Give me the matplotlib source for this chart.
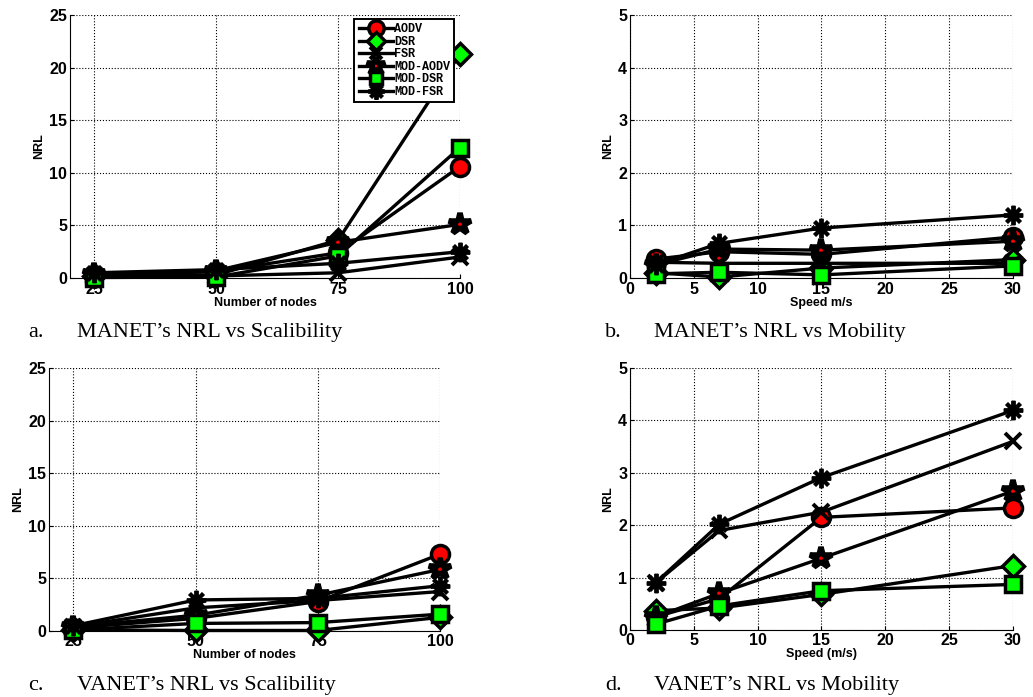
import matplotlib
matplotlib.use('Agg')
import matplotlib.pyplot as plt

# x values
nodes = [25, 50, 75, 100]
speed = [2, 7, 15, 30]
labels = ['AODV', 'DSR', 'FSR', 'MOD-AODV', 'MOD-DSR', 'MOD-FSR']

# a. MANET NRL vs scalability
a_aodv = [0.3, 0.6, 2.4, 10.6]
a_dsr = [0.2, 0.3, 3.6, 21.3]
a_fsr = [0.1, 0.2, 0.5, 2.0]
a_mod_aodv = [0.4, 0.7, 3.4, 5.1]
a_mod_dsr = [0.05, 0.1, 2.1, 12.4]
a_mod_fsr = [0.5, 0.8, 1.4, 2.5]

# b. MANET NRL vs mobility
b_aodv = [0.36, 0.5, 0.45, 0.78]
b_dsr = [0.1, 0.02, 0.19, 0.35]
b_fsr = [0.3, 0.28, 0.28, 0.28]
b_mod_aodv = [0.25, 0.55, 0.53, 0.7]
b_mod_dsr = [0.08, 0.11, 0.06, 0.23]
b_mod_fsr = [0.25, 0.66, 0.95, 1.2]

# c. VANET NRL vs scalability
c_aodv = [0.3, 1.2, 2.8, 7.3]
c_dsr = [0.1, 0.05, 0.05, 1.3]
c_fsr = [0.4, 2.2, 2.9, 3.75]
c_mod_aodv = [0.4, 1.5, 3.4, 5.85]
c_mod_dsr = [0.1, 0.72, 0.8, 1.6]
c_mod_fsr = [0.5, 2.95, 3.1, 4.3]

# d. VANET NRL vs mobility
d_aodv = [0.25, 0.6, 2.15, 2.33]
d_dsr = [0.37, 0.42, 0.68, 1.23]
d_fsr = [0.9, 1.9, 2.25, 3.6]
d_mod_aodv = [0.25, 0.7, 1.37, 2.65]
d_mod_dsr = [0.11, 0.46, 0.75, 0.87]
d_mod_fsr = [0.9, 2.02, 2.91, 4.19]

# marker style per series: marker, size, face colour, edge width
styles = [('o', 13, 'red', 2.5),
          ('D', 11, 'lime', 2.5),
          ('x', 11, 'black', 2.8),
          ('*', 16, 'red', 4.0),
          ('s', 11, 'lime', 2.5),
          ((8, 2, 0), 14, 'black', 2.8)]

tickfont = {'family': 'Liberation Sans', 'weight': 'bold', 'size': 11.5}
labfont = {'family': 'Liberation Sans', 'weight': 'bold', 'size': 9}


def draw(ax, x, series, xlim, ylim, xticks, yticks, xlabel, legend=False):
    for ys, (m, ms, fc, mew) in zip(series, styles):
        ax.plot(x, ys, color='black', lw=2.4, marker=m, ms=ms,
                mfc=fc, mec='black', mew=mew, clip_on=False, zorder=3)
    ax.set_xlim(xlim)
    ax.set_ylim(ylim)
    ax.set_xticks(xticks)
    ax.set_yticks(yticks)
    ax.set_xticklabels([str(t) for t in xticks], fontdict=tickfont)
    ax.set_yticklabels([str(t) for t in yticks], fontdict=tickfont)
    ax.tick_params(direction='in', length=3, width=0.8)
    ax.tick_params(axis='x', pad=2.5)
    ax.tick_params(axis='y', pad=2)
    ax.grid(True, color='black', linestyle=':', linewidth=0.8)
    ax.set_axisbelow(True)
    ax.spines['top'].set_visible(False)
    ax.spines['right'].set_visible(False)
    ax.spines['left'].set_linewidth(0.8)
    ax.spines['bottom'].set_linewidth(0.8)
    ax.set_xlabel(xlabel, fontdict=labfont, labelpad=0)
    ax.set_ylabel('NRL', fontdict=labfont, labelpad=3)
    if legend:
        leg = ax.legend(labels, loc='upper right', bbox_to_anchor=(0.985, 0.985),
                        prop={'family': 'Liberation Mono', 'weight': 'bold', 'size': 8.5},
                        handlelength=2.9, handletextpad=0.1, labelspacing=0.05,
                        borderpad=0.35, borderaxespad=0, fancybox=False,
                        framealpha=1, markerscale=0.85)
        leg.get_frame().set_edgecolor('black')
        leg.get_frame().set_linewidth(1.4)
        leg.set_zorder(5)


fig = plt.figure(figsize=(10.33, 6.97), dpi=100)
ax_a = fig.add_axes([0.0678, 0.6011, 0.3775, 0.3774])
ax_b = fig.add_axes([0.6099, 0.6011, 0.3707, 0.3774])
ax_c = fig.add_axes([0.0474, 0.0947, 0.3786, 0.3773])
ax_d = fig.add_axes([0.6099, 0.0961, 0.3707, 0.3759])

draw(ax_a, nodes, [a_aodv, a_dsr, a_fsr, a_mod_aodv, a_mod_dsr, a_mod_fsr],
     (20, 100), (0, 25), [25, 50, 75, 100], [0, 5, 10, 15, 20, 25],
     'Number of nodes', legend=True)
draw(ax_b, speed, [b_aodv, b_dsr, b_fsr, b_mod_aodv, b_mod_dsr, b_mod_fsr],
     (0, 30), (0, 5), [0, 5, 10, 15, 20, 25, 30], [0, 1, 2, 3, 4, 5],
     'Speed m/s')
draw(ax_c, nodes, [c_aodv, c_dsr, c_fsr, c_mod_aodv, c_mod_dsr, c_mod_fsr],
     (20, 100), (0, 25), [25, 50, 75, 100], [0, 5, 10, 15, 20, 25],
     'Number of nodes')
draw(ax_d, speed, [d_aodv, d_dsr, d_fsr, d_mod_aodv, d_mod_dsr, d_mod_fsr],
     (0, 30), (0, 5), [0, 5, 10, 15, 20, 25, 30], [0, 1, 2, 3, 4, 5],
     'Speed (m/s)')

# captions under each panel
capfont = {'family': 'Liberation Serif', 'size': 16}
captions = [(28, 337, 'a.', "MANET\u2019s NRL vs Scalibility"),
            (605, 337, 'b.', "MANET\u2019s NRL vs Mobility"),
            (28, 690, 'c.', "VANET\u2019s NRL vs Scalibility"),
            (605, 690, 'd.', "VANET\u2019s NRL vs Mobility")]
for px, py, tag, txt in captions:
    fig.text(px / 1033, 1 - py / 697, tag, fontdict=capfont, va='baseline')
    fig.text((px + 49) / 1033, 1 - py / 697, txt, fontdict=capfont, va='baseline')

fig.savefig('out.png', dpi=100)
